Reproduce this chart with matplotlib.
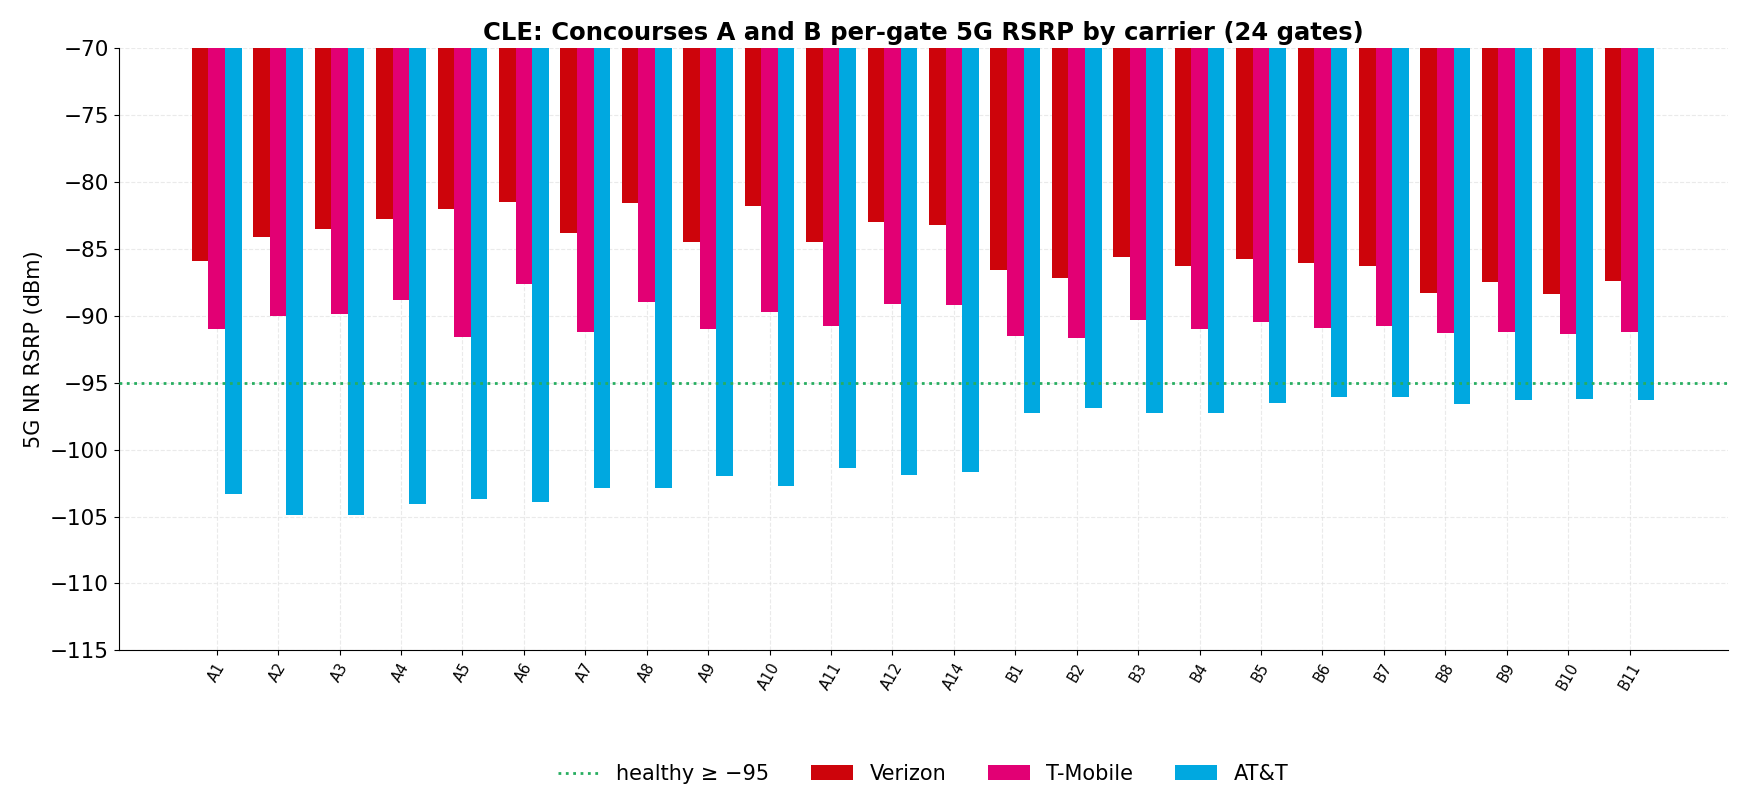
import numpy as np
import matplotlib
matplotlib.use("Agg")
import matplotlib.pyplot as plt

gates = ["A1", "A2", "A3", "A4", "A5", "A6", "A7", "A8", "A9", "A10", "A11", "A12", "A14",
         "B1", "B2", "B3", "B4", "B5", "B6", "B7", "B8", "B9", "B10", "B11"]

verizon = [-85.9, -84.1, -83.5, -82.8, -82.0, -81.5, -83.8, -81.6, -84.5, -81.8, -84.5, -83.0, -83.2,
           -86.6, -87.2, -85.6, -86.3, -85.8, -86.1, -86.3, -88.3, -87.5, -88.4, -87.4]
tmobile = [-91.0, -90.0, -89.9, -88.8, -91.6, -87.6, -91.2, -89.0, -91.0, -89.7, -90.8, -89.1, -89.2,
           -91.5, -91.7, -90.3, -91.0, -90.5, -90.9, -90.8, -91.3, -91.2, -91.4, -91.2]
att = [-103.3, -104.9, -104.9, -104.1, -103.7, -103.9, -102.9, -102.9, -102.0, -102.7, -101.4, -101.9, -101.7,
       -97.3, -96.9, -97.3, -97.3, -96.5, -96.1, -96.1, -96.6, -96.3, -96.2, -96.3]

healthy = -95

fig, ax = plt.subplots(figsize=(17.45, 8.11), dpi=100)
x = np.arange(len(gates))
w = 0.27

ax.axhline(healthy, color="#27ae60", linestyle=":", linewidth=2, label="healthy \u2265 \u221295", zorder=3)
ax.bar(x - w, verizon, w, color="#CD040B", label="Verizon", zorder=2)
ax.bar(x, tmobile, w, color="#E20074", label="T-Mobile", zorder=2)
ax.bar(x + w, att, w, color="#00A8E0", label="AT&T", zorder=2)

ax.set_ylim(-115, -70)
ax.set_xticks(x)
ax.set_xticklabels(gates, rotation=60, fontsize=10.5)
ax.tick_params(axis="y", labelsize=15.5)
ax.set_ylabel("5G NR RSRP (dBm)", fontsize=15)
ax.set_title("CLE: Concourses A and B per-gate 5G RSRP by carrier (24 gates)", fontsize=17.5, fontweight="bold")
ax.grid(True, linestyle="--", color="#dddddd", alpha=0.6, zorder=4)
ax.spines["top"].set_visible(False)
ax.spines["right"].set_visible(False)

ax.legend(loc="center", bbox_to_anchor=(0.5, -0.205), ncol=4, frameon=False, fontsize=15)

fig.subplots_adjust(left=0.068, right=0.99, top=0.941, bottom=0.198)
fig.savefig("out.png")
